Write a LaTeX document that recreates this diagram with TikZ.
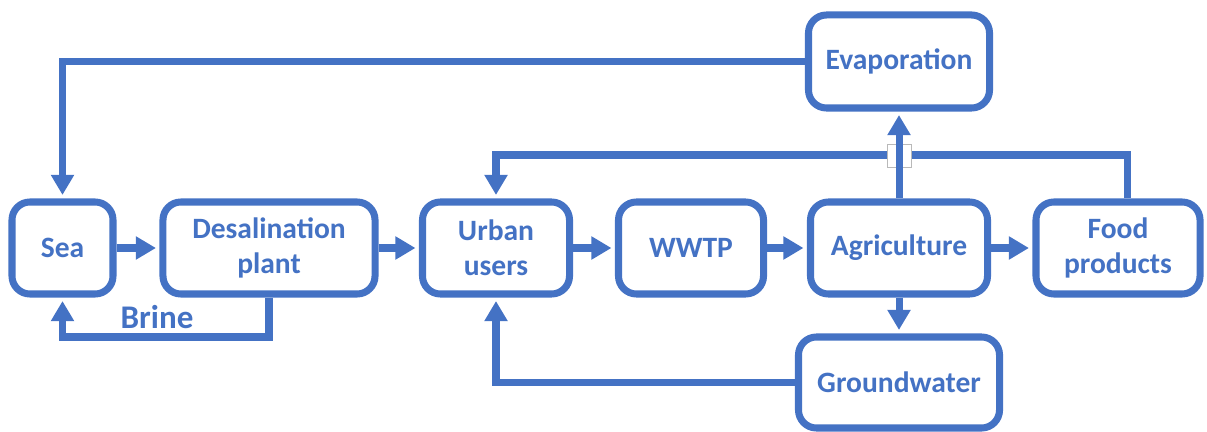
\documentclass[tikz,border=0pt]{standalone}
\usepackage{fontspec}
\setmainfont{Carlito}
\usetikzlibrary{arrows.meta}
\definecolor{flowblue}{HTML}{4472C4}

\begin{document}
\begin{tikzpicture}[x=0.025cm,y=-0.025cm,
    blk/.style={draw=flowblue, line width=5pt, rounded corners=0.45cm, fill=white,
        minimum height=2.3cm, inner sep=0pt, align=center, text=flowblue,
        font=\fontsize{21}{25}\selectfont\bfseries},
    lbl/.style={text=flowblue, font=\fontsize{23.5}{28}\selectfont\bfseries},
    flow/.style={draw=flowblue, line width=5pt,
        -{Triangle[length=0.5cm,width=0.55cm]}, shorten >=2.5pt}]
    \useasboundingbox (0,0) rectangle (1207,432);

    % main row
    \node[blk, minimum width=2.525cm] (sea) at (62.5,248) {Sea};
    \node[blk, minimum width=5.3cm] (desal) at (269,248) {Desalination\\plant};
    \node[blk, minimum width=3.675cm] (urban) at (496,248) {Urban\\users};
    \node[blk, minimum width=3.625cm] (wwtp) at (691,248) {WWTP};
    \node[blk, minimum width=4.425cm] (agri) at (899,248) {Agriculture};
    \node[blk, minimum width=4.1cm] (food) at (1118,248) {Food\\products};

    % top and bottom boxes
    \node[blk, minimum width=4.525cm, minimum height=2.325cm] (evap) at (899,61.5) {Evaporation};
    \node[blk, minimum width=5.025cm, minimum height=2.275cm] (ground) at (899,382.5) {Groundwater};

    % Evaporation back to the sea
    \draw[flow] (evap.west) -| (sea.north);

    % brine loop
    \coordinate (brinecorner) at (62.5,337);
    \draw[flow] (desal.south) |- (brinecorner) -- (sea.south);
    \node[lbl] (brine) at (157,317) {Brine};

    % Edges
    \foreach \source/\target in {sea/desal, desal/urban, urban/wwtp, wwtp/agri, agri/food, agri/ground} {
        \draw[flow] (\source) -- (\target);
    }

    % food products back to urban users
    \coordinate (loop) at (0,155);
    \draw[flow] ([xshift=0.225cm]food.north) |- (loop -| urban.north) -- (urban.north);
    \node[draw=gray!55, fill=white, line width=0.6pt, minimum width=0.6cm,
        minimum height=0.575cm, inner sep=0pt] (handle) at (899,155.5) {};
    \draw[flow] (agri) -- (evap);

    % groundwater back to urban users
    \draw[flow] (ground.west) -| (urban.south);
\end{tikzpicture}
\end{document}
